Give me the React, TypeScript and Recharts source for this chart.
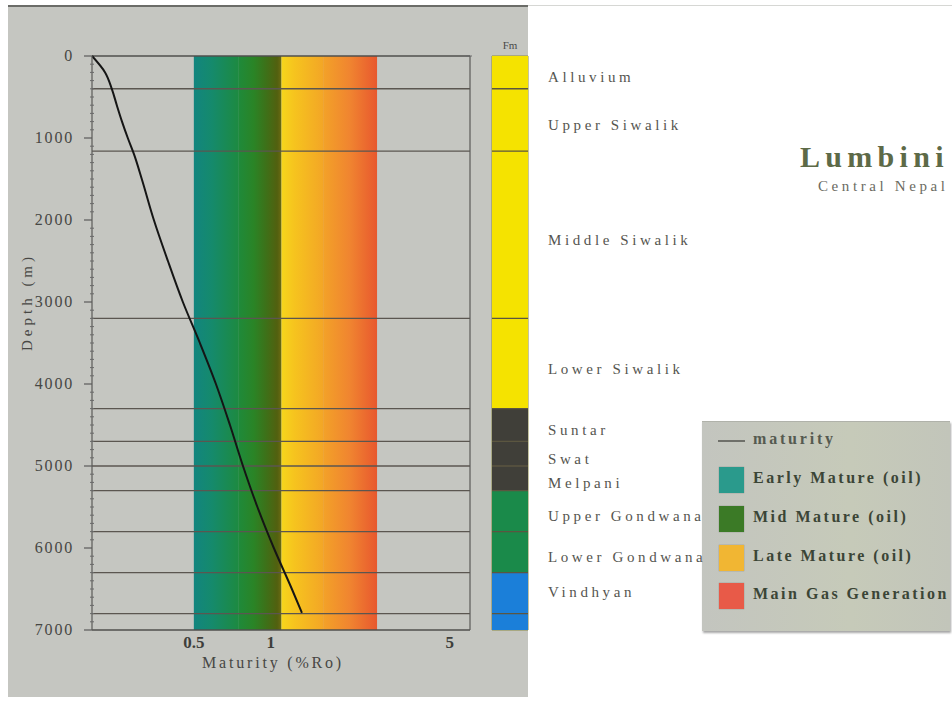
import React from 'react';
import { ComposedChart, BarChart, Bar, Line, XAxis, YAxis, ReferenceArea, ReferenceLine, Legend } from 'recharts';

// Maturity curve (vitrinite reflectance %Ro vs depth in m)
const curveRo = [0.2, 0.225, 0.239, 0.25, 0.262, 0.276, 0.292, 0.313, 0.349, 0.396, 0.453, 0.528, 0.61, 0.692, 0.778, 0.886, 1.027, 1.208, 1.322];
const curveDepth = [0, 200, 400, 600, 800, 1000, 1200, 1500, 2000, 2500, 3000, 3500, 4000, 4500, 5000, 5500, 6000, 6500, 6790];

// Maturity windows
const zoneNames = ['Early Mature (oil)', 'Mid Mature (oil)', 'Late Mature (oil)', 'Main Gas Generation'];
const zoneFrom = [0.5, 0.75, 1.1, 1.6];
const zoneTo = [0.75, 1.1, 1.6, 2.6];

// Formations
const fmNames = ['Alluvium', 'Upper Siwalik', 'Middle Siwalik', 'Lower Siwalik', 'Suntar', 'Swat', 'Melpani', 'Upper Gondwana', 'Lower Gondwana', 'Vindhyan'];
const fmTop = [0, 400, 1160, 3200, 4300, 4700, 5000, 5300, 5800, 6300];
const fmBase = [400, 1160, 3200, 4300, 4700, 5000, 5300, 5800, 6300, 7000];
const fmKind = ['clastic', 'clastic', 'clastic', 'clastic', 'dark', 'dark', 'dark', 'gondwana', 'gondwana', 'vindhyan'];
const boundaries = [400, 1160, 3200, 4300, 4700, 5000, 5300, 5800, 6300, 6800];

const xTicks = [0.5, 1, 5];
const depthMajor = [0, 1000, 2000, 3000, 4000, 5000, 6000, 7000];
const depthTicks: number[] = [];
for (let d = 0; d <= 7000; d += 100) depthTicks.push(d);

const kindColor: Record<string, string> = {
  clastic: '#f5e300',
  dark: '#403f39',
  gondwana: '#1a8a4a',
  vindhyan: '#1b7fd9',
};
const zoneSwatch = ['#2a9a8c', '#3b7a26', '#f1b633', '#e85a48'];
const zoneStops: [number, string][][] = [
  [[0, '#12857f'], [0.4, '#158a6c'], [1, '#1d8a40']],
  [[0, '#1f8a3a'], [0.35, '#2a8426'], [0.65, '#3e7018'], [0.9, '#52600f'], [1, '#6c6a12']],
  [[0, '#f6d61c'], [0.3, '#f6c41e'], [1, '#f3a626']],
  [[0, '#f3a228'], [0.5, '#f08430'], [1, '#e8582e']],
];

const data = curveRo.map((ro, i) => ({ ro, depth: curveDepth[i] }));
const fmRow: Record<string, number | string> = { name: 'Fm' };
fmNames.forEach((n, i) => {
  fmRow[n] = fmBase[i] - fmTop[i];
});
const fmData = [fmRow];

const SERIF = '"Liberation Serif", "DejaVu Serif", serif';
const TEXT = '#474744';

const LeftTick = (props: any) => {
  const { x, y, payload } = props;
  const v = payload.value;
  const major = depthMajor.includes(v);
  return (
    <g>
      {major ? (
        <>
          <line x1={x - 8} y1={y} x2={x} y2={y} stroke="#5a5a5a" strokeWidth={1.2} />
          <text x={x - 18} y={y} dy={5} textAnchor="end" fontFamily={SERIF} fontSize={16} letterSpacing={1.8} fill={TEXT}>
            {v}
          </text>
        </>
      ) : (
        <line x1={x - 2} y1={y} x2={x + 2} y2={y} stroke="#6a6a6a" strokeWidth={1} />
      )}
    </g>
  );
};

const RightTick = (props: any) => {
  const { x, y, payload } = props;
  const major = payload.value % 500 === 0;
  return <line x1={x - (major ? 4 : 2)} y1={y} x2={x + 2} y2={y} stroke="#6a6a6a" strokeWidth={1} />;
};

const BottomTick = (props: any) => {
  const { x, y, payload } = props;
  return (
    <text x={x} y={y + 16} textAnchor="middle" fontFamily={SERIF} fontSize={17} fontWeight={600} fill="#3e3e3b">
      {payload.value}
    </text>
  );
};

const LegendBox = () => (
  <div
    style={{
      position: 'relative',
      width: 248,
      height: 209,
      background: 'linear-gradient(90deg, #c3c5bf 0%, #c6cab9 60%, #c2c5ba 100%)',
      boxShadow: '1px 2px 2px rgba(0,0,0,0.35)',
      borderTop: '1px solid #b0b2aa',
      fontFamily: SERIF,
      color: '#3b4536',
    }}
  >
    <div style={{ position: 'absolute', left: 16, top: 18, width: 27, height: 2, background: '#6f706a' }} />
    <div style={{ position: 'absolute', left: 51, top: 8, fontSize: 16, fontWeight: 700, letterSpacing: 2.8, color: '#555a50' }}>maturity</div>
    {zoneNames.map((n, i) => (
      <React.Fragment key={n}>
        <div
          style={{
            position: 'absolute',
            left: 17,
            top: 45 + i * 38.8,
            width: 25,
            height: 26,
            background: zoneSwatch[i],
            boxShadow: '0 0 1px rgba(0,0,0,0.4)',
          }}
        />
        <div style={{ position: 'absolute', left: 51, top: 47 + i * 38.8, fontSize: 16, fontWeight: 700, letterSpacing: 2.5, whiteSpace: 'nowrap' }}>
          {n}
        </div>
      </React.Fragment>
    ))}
  </div>
);

export default function App() {
  return (
    <div style={{ position: 'absolute', left: 0, top: 0, width: 952, height: 701, background: '#ffffff', overflow: 'hidden' }}>
      <div style={{ position: 'absolute', left: 8, top: 5, width: 520, height: 690, background: '#c5c6c1', borderTop: '2px solid #6b6c68' }} />
      <div style={{ position: 'absolute', left: 528, top: 5, width: 424, height: 1, background: '#d6d7d4' }} />

      <div style={{ position: 'absolute', left: 0, top: 0 }}>
        <ComposedChart
          width={952}
          height={701}
          layout="vertical"
          data={data}
          margin={{ top: 56, right: 472, bottom: 31, left: 32 }}
        >
          <defs>
            {zoneStops.map((stops, i) => (
              <linearGradient key={i} id={`zone${i}`} x1="0" y1="0" x2="1" y2="0">
                {stops.map(([o, c], j) => (
                  <stop key={j} offset={o} stopColor={c} />
                ))}
              </linearGradient>
            ))}
          </defs>
          <XAxis
            type="number"
            dataKey="ro"
            scale="log"
            domain={[0.2, 6]}
            allowDataOverflow
            ticks={xTicks}
            interval={0}
            height={40}
            tickLine={false}
            tickSize={0}
            tick={<BottomTick />}
            axisLine={{ stroke: '#4f4f4c', strokeWidth: 1.5 }}
            label={{
              content: (p: any) => {
                const vb = p.viewBox;
                return (
                  <text x={vb.x + vb.width / 2 - 8} y={vb.y + 38} textAnchor="middle" fontFamily={SERIF} fontSize={16} letterSpacing={2.8} fill={TEXT}>
                    Maturity (%Ro)
                  </text>
                );
              },
            }}
          />
          <YAxis
            type="number"
            dataKey="depth"
            domain={[0, 7000]}
            ticks={depthTicks}
            interval={0}
            width={60}
            tickLine={false}
            tickSize={0}
            tickMargin={0}
            tick={<LeftTick />}
            axisLine={{ stroke: '#5a5a58', strokeWidth: 1.2 }}
            label={{
              content: (p: any) => {
                const vb = p.viewBox;
                const cx = vb.x - 5;
                const cy = vb.y + vb.height / 2 - 41;
                return (
                  <text x={cx} y={cy} transform={`rotate(-90 ${cx} ${cy})`} textAnchor="middle" dominantBaseline="central" fontFamily={SERIF} fontSize={15} letterSpacing={4} fill={TEXT}>
                    Depth (m)
                  </text>
                );
              },
            }}
          />
          <YAxis
            yAxisId="r"
            orientation="right"
            type="number"
            domain={[0, 7000]}
            ticks={depthTicks}
            interval={0}
            width={10}
            tickLine={false}
            tickSize={0}
            tickMargin={0}
            tick={<RightTick />}
            axisLine={{ stroke: '#5a5a58', strokeWidth: 1.2 }}
          />
          {zoneNames.map((n, i) => (
            <ReferenceArea key={n} x1={zoneFrom[i]} x2={zoneTo[i]} y1={0} y2={7000} fill={`url(#zone${i})`} fillOpacity={1} stroke="none" />
          ))}
          <ReferenceLine y={0} stroke="#4f4f4c" strokeWidth={1.5} />
          {boundaries.map((b) => (
            <ReferenceLine key={b} y={b} stroke="#5b5650" strokeWidth={1.4} />
          ))}
          <Line dataKey="ro" name="maturity" stroke="#151515" strokeWidth={2} dot={false} isAnimationActive={false} type="monotone" />
          <Legend
            layout="vertical"
            align="center"
            verticalAlign="middle"
            content={() => <LegendBox />}
            wrapperStyle={{ left: 702, top: 421, width: 248, height: 209 }}
          />
        </ComposedChart>
      </div>

      <div style={{ position: 'absolute', left: 0, top: 0 }}>
        <BarChart
          width={952}
          height={701}
          data={fmData}
          barCategoryGap={0}
          margin={{ top: 56, right: 424, bottom: 71, left: 492 }}
        >
          <XAxis dataKey="name" type="category" hide />
          <YAxis type="number" domain={[0, 7000]} reversed hide width={0} />
          {fmNames.map((n, i) => (
            <Bar
              key={n}
              dataKey={n}
              stackId="fm"
              fill={kindColor[fmKind[i]]}
              isAnimationActive={false}
              label={{
                content: (p: any) => {
                  const vb = p.viewBox || p;
                  const x = Number(vb.x) + Number(vb.width) + 20;
                  const yTop = Number(vb.y);
                  const h = Number(vb.height);
                  const cy = n === 'Vindhyan' ? Math.min(yTop, yTop + h) + 20 : yTop + h / 2 + 6;
                  return (
                    <text x={x} y={cy} dy={4} fontFamily={SERIF} fontSize={15} letterSpacing={3.6} fill="#55554f">
                      {n}
                    </text>
                  );
                },
              }}
            />
          ))}
          <ReferenceArea x1="Fm" x2="Fm" y1={0} y2={7000} fill="none" stroke="#8b8a45" strokeWidth={1} />
          {boundaries.map((b) => (
            <ReferenceLine key={b} y={b} stroke="#5b5640" strokeWidth={1.4} />
          ))}
          <ReferenceLine
            y={0}
            stroke="none"
            label={{
              content: (p: any) => {
                const vb = p.viewBox;
                return (
                  <text x={vb.x + vb.width / 2} y={vb.y - 7} textAnchor="middle" fontFamily={SERIF} fontSize={11} fill="#4a4a48">
                    Fm
                  </text>
                );
              },
            }}
          />
        </BarChart>
      </div>

      <div style={{ position: 'absolute', left: 800, top: 140, fontFamily: SERIF, fontSize: 30, fontWeight: 700, letterSpacing: 5.3, color: '#5d6a47', whiteSpace: 'nowrap' }}>
        Lumbini
      </div>
      <div style={{ position: 'absolute', left: 818, top: 178, fontFamily: SERIF, fontSize: 15, letterSpacing: 3.6, color: '#6b6b62', whiteSpace: 'nowrap' }}>
        Central Nepal
      </div>
    </div>
  );
}
